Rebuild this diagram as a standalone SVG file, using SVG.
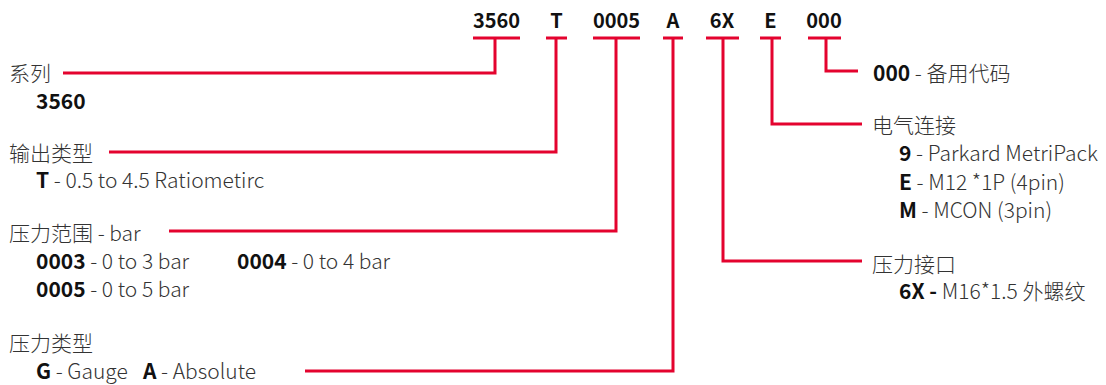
<svg xmlns="http://www.w3.org/2000/svg" width="1106" height="385" viewBox="0 0 1106 385">
<style>
text{font-family:"Noto Sans CJK SC","Noto Sans",sans-serif;font-size:21px;fill:#333;font-weight:300}
.b{font-weight:700;fill:#111}
.code{font-size:20px;font-weight:700;fill:#111;text-anchor:middle}
.ln{fill:none;stroke:#e4032e;stroke-width:3}
</style>
<rect width="1106" height="385" fill="#fff"/>
<g id="codes">
<text class="code" x="496.5" y="28">3560</text>
<text class="code" x="556.5" y="28">T</text>
<text class="code" x="616.5" y="28">0005</text>
<text class="code" x="673" y="28">A</text>
<text class="code" x="722" y="28">6X</text>
<text class="code" x="770.5" y="28">E</text>
<text class="code" x="824" y="28">000</text>
</g>
<g id="connectors">
<path class="ln" d="M473 38H520M495 38V73H63"/>
<path class="ln" d="M546 38H567M556 38V152H109"/>
<path class="ln" d="M593 38H640M616 38V231H169"/>
<path class="ln" d="M663 38H683M673 38V371H305"/>
<path class="ln" d="M706 38H739M723 38V261H862"/>
<path class="ln" d="M760 38H781M772 38V124H862"/>
<path class="ln" d="M808 38H841M826 38V71H858"/>
</g>
<g id="series">
<text x="9" y="81">系列</text>
<text class="b" x="36" y="109">3560</text>
</g>
<g id="output">
<text x="9" y="161">输出类型</text>
<text x="36" y="188"><tspan class="b">T</tspan> - 0.5 to 4.5 Ratiometirc</text>
</g>
<g id="range">
<text x="9" y="241">压力范围 - bar</text>
<text x="36" y="269"><tspan class="b">0003</tspan> - 0 to 3 bar</text>
<text x="237" y="269"><tspan class="b">0004</tspan> - 0 to 4 bar</text>
<text x="36" y="297"><tspan class="b">0005</tspan> - 0 to 5 bar</text>
</g>
<g id="ptype">
<text x="9" y="351">压力类型</text>
<text x="36" y="379"><tspan class="b">G</tspan> - Gauge</text>
<text x="143" y="379"><tspan class="b">A</tspan> - Absolute</text>
</g>
<g id="spare">
<text x="873" y="81"><tspan class="b">000</tspan> - 备用代码</text>
</g>
<g id="electrical">
<text x="872" y="133">电气连接</text>
<text x="899" y="161"><tspan class="b">9</tspan> - Parkard MetriPack</text>
<text x="899" y="190"><tspan class="b">E</tspan> - M12 *1P (4pin)</text>
<text x="899" y="218"><tspan class="b">M</tspan> - MCON (3pin)</text>
</g>
<g id="port">
<text x="872" y="272">压力接口</text>
<text x="899" y="299"><tspan class="b">6X -</tspan> M16*1.5 外螺纹</text>
</g>
</svg>
